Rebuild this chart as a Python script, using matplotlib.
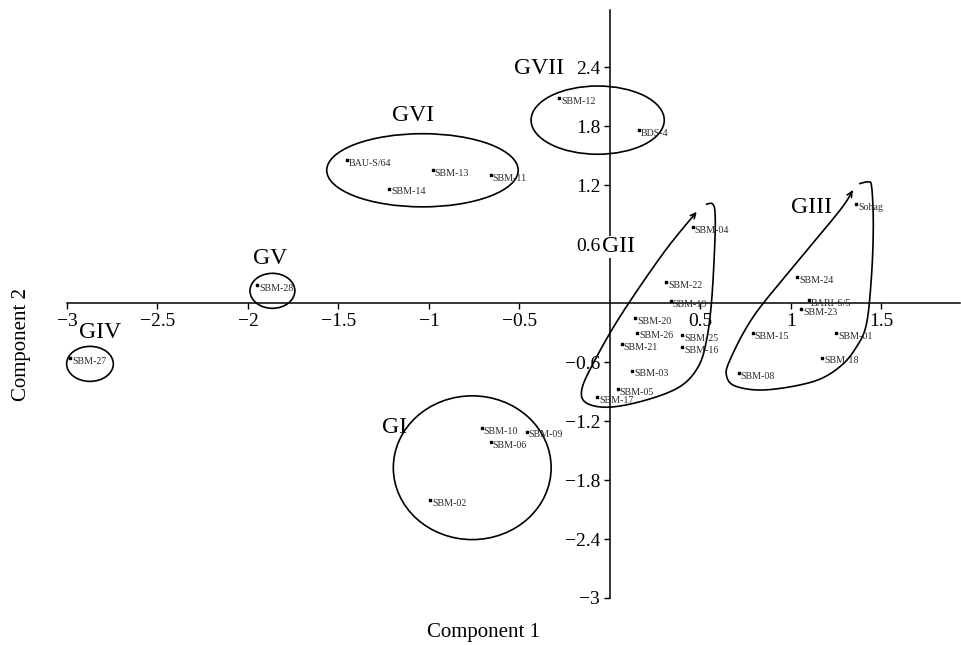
import numpy as np
import matplotlib
matplotlib.use('Agg')
import matplotlib.pyplot as plt
from matplotlib.patches import Ellipse

plt.rcParams['font.family'] = ['Liberation Serif', 'DejaVu Serif']

# genotype scores on the first two components
names = ['Sohag', 'SBM-04', 'SBM-22', 'SBM-19', 'SBM-20', 'SBM-26', 'SBM-21',
         'SBM-25', 'SBM-16', 'SBM-03', 'SBM-05', 'SBM-17', 'SBM-24', 'BARI-S/5',
         'SBM-23', 'SBM-15', 'SBM-01', 'SBM-18', 'SBM-08', 'SBM-10', 'SBM-09',
         'SBM-06', 'SBM-02', 'BAU-S/64', 'SBM-13', 'SBM-11', 'SBM-14', 'SBM-12',
         'BDS-4', 'SBM-28', 'SBM-27']
comp1 = [1.36, 0.457, 0.31, 0.335, 0.138, 0.151, 0.065,
         0.40, 0.40, 0.123, 0.042, -0.07, 1.035, 1.10,
         1.055, 0.788, 1.25, 1.173, 0.711, -0.709, -0.46,
         -0.659, -0.994, -1.455, -0.98, -0.659, -1.219, -0.28,
         0.16, -1.951, -2.983]
comp2 = [1.005, 0.77, 0.216, 0.02, -0.149, -0.30, -0.42,
         -0.325, -0.444, -0.687, -0.873, -0.96, 0.26, 0.03,
         -0.058, -0.31, -0.31, -0.555, -0.71, -1.276, -1.307,
         -1.41, -2.007, 1.452, 1.35, 1.30, 1.164, 2.088,
         1.756, 0.183, -0.561]

# cluster ellipses: name, centre x, centre y, width, height, label x, label y
groups = ['GI', 'GIV', 'GV', 'GVI', 'GVII']
g_cx = [-0.761, -2.873, -1.865, -1.036, -0.068]
g_cy = [-1.675, -0.619, 0.124, 1.35, 1.86]
g_w = [0.872, 0.258, 0.248, 1.058, 0.736]
g_h = [1.462, 0.356, 0.356, 0.744, 0.694]
g_lx = [-1.19, -2.82, -1.878, -1.09, -0.39]
g_ly = [-1.27, -0.30, 0.457, 1.91, 2.39]

# hand drawn loops around GII and GIII
gii_x = [0.534, 0.565, 0.580, 0.580, 0.562, 0.534, 0.488, 0.387, 0.203, 0.0,
         -0.129, -0.156, -0.092, 0.055, 0.294, 0.479]
gii_y = [1.005, 1.010, 0.93, 0.64, 0.03, -0.376, -0.647, -0.850, -0.985, -1.059,
         -1.018, -0.883, -0.612, -0.139, 0.505, 0.927]
giii_x = [1.381, 1.427, 1.446, 1.455, 1.446, 1.418, 1.363, 1.271, 1.123, 0.866,
          0.700, 0.645, 0.663, 0.792, 1.013, 1.271, 1.341]
giii_y = [1.215, 1.231, 1.181, 0.809, 0.302, -0.206, -0.444, -0.647, -0.799, -0.883,
          -0.850, -0.748, -0.579, -0.139, 0.369, 0.944, 1.147]

xticks = [-3, -2.5, -2, -1.5, -1, -0.5, 0.5, 1, 1.5]
yticks = [-3, -2.4, -1.8, -1.2, -0.6, 0.6, 1.2, 1.8, 2.4]


def smooth(xs, ys, n=20):
    # catmull-rom through the outline points
    p = np.column_stack([xs, ys])
    p = np.vstack([p[0], p, p[-1]])
    out = []
    for i in range(1, len(p) - 2):
        p0, p1, p2, p3 = p[i - 1], p[i], p[i + 1], p[i + 2]
        for t in np.linspace(0, 1, n, endpoint=False):
            t2, t3 = t * t, t * t * t
            out.append(0.5 * (2 * p1 + (-p0 + p2) * t + (2 * p0 - 5 * p1 + 4 * p2 - p3) * t2
                              + (-p0 + 3 * p1 - 3 * p2 + p3) * t3))
    out.append(p[-2])
    return np.array(out)


def lab(v):
    s = ('%g' % v)
    return s.replace('-', '\u2212')


fig = plt.figure(figsize=(9.62, 6.45), dpi=100)
ax = fig.add_axes([67 / 962, 47 / 645, 893 / 962, 588 / 645])
ax.set_xlim(-3, 1.934)
ax.set_ylim(-3, 2.98)

for s in ['top', 'right']:
    ax.spines[s].set_visible(False)
ax.spines['left'].set_position(('data', 0))
ax.spines['bottom'].set_position(('data', 0))
ax.spines['left'].set_linewidth(1.1)
ax.spines['bottom'].set_linewidth(1.1)

ax.set_xticks(xticks)
ax.set_xticklabels([lab(v) for v in xticks])
ax.set_yticks(yticks)
ax.set_yticklabels([lab(v) for v in yticks])
ax.tick_params(direction='out', length=4, width=1, labelsize=14, pad=3)

ax.scatter(comp1, comp2, s=1.5, marker='s', color='black', zorder=3)
for n, x, y in zip(names, comp1, comp2):
    ax.annotate(n, (x, y), xytext=(1.5, 0.8), textcoords='offset points',
                ha='left', va='top', fontsize=7.2, color='#2a2a2a')

for g, cx, cy, w, h, lx, ly in zip(groups, g_cx, g_cy, g_w, g_h, g_lx, g_ly):
    ax.add_patch(Ellipse((cx, cy), w, h, fill=False, lw=1.2, ec='black', clip_on=False))
    ax.text(lx, ly, g, fontsize=17, ha='center', va='center')

for xs, ys in [(gii_x, gii_y), (giii_x, giii_y)]:
    c = smooth(xs, ys)
    ax.plot(c[:-3, 0], c[:-3, 1], color='black', lw=1.2)
    ax.annotate('', xy=c[-1], xytext=c[-4],
                arrowprops=dict(arrowstyle='->', lw=1.2, color='black',
                                shrinkA=0, shrinkB=0, mutation_scale=9))

ax.text(0.05, 0.57, 'GII', fontsize=17, ha='center', va='center',
        bbox=dict(facecolor='white', edgecolor='none', pad=0.5), zorder=4)
ax.text(1.116, 0.975, 'GIII', fontsize=17, ha='center', va='center')

fig.text(484 / 962, 1 - 633 / 645, 'Component 1', fontsize=15, ha='center', va='center')
fig.text(22 / 962, 1 - 345 / 645, 'Component 2', fontsize=15, ha='center', va='center',
         rotation=90)

fig.savefig('out.png', dpi=100)
